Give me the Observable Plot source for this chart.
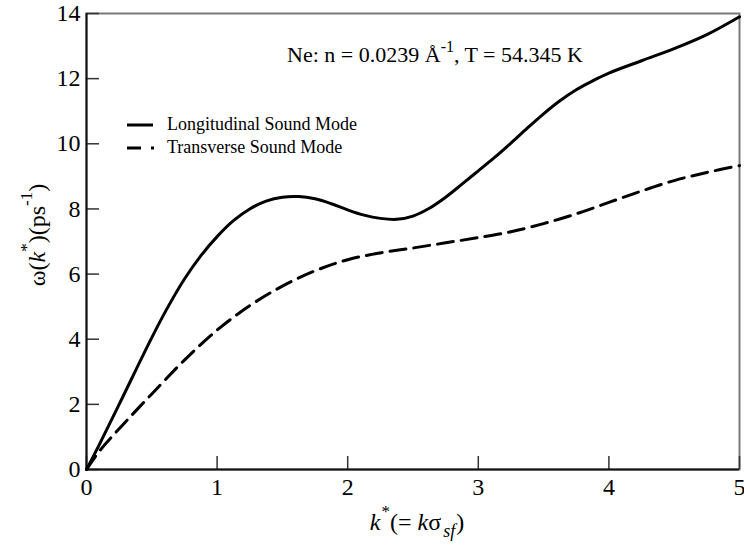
<!DOCTYPE html>
<html>
<head>
<meta charset="utf-8">
<script src="https://cdn.jsdelivr.net/npm/d3@7"></script>
<script src="https://cdn.jsdelivr.net/npm/@observablehq/plot@0.6"></script>
<style>
  html, body { margin: 0; padding: 0; background: #fff; }
  svg text, svg tspan { font-family: "Liberation Serif", "Times New Roman", serif !important; }
</style>
</head>
<body>
<div id="chart"></div>
<script>
// Longitudinal sound mode
const kLong = [0, 0.1, 0.25, 0.5, 0.625, 0.75, 0.875, 1.0, 1.125, 1.25, 1.375, 1.5, 1.625, 1.75, 1.875, 2.0, 2.125, 2.25, 2.375, 2.5, 2.625, 2.75, 2.875, 3.0, 3.125, 3.25, 3.375, 3.5, 3.625, 3.75, 3.875, 4.0, 4.25, 4.5, 4.75, 5.0];
const wLong = [0, 0.78, 2.0, 4.05, 5.0, 5.85, 6.56, 7.15, 7.64, 8.0, 8.24, 8.36, 8.38, 8.31, 8.16, 7.97, 7.81, 7.71, 7.68, 7.78, 8.02, 8.36, 8.76, 9.17, 9.58, 10.02, 10.48, 10.92, 11.32, 11.66, 11.93, 12.17, 12.55, 12.92, 13.35, 13.90];
// Transverse sound mode
const kTrans = [0, 0.1, 0.25, 0.5, 0.75, 1.0, 1.25, 1.5, 1.75, 2.0, 2.25, 2.5, 2.75, 3.0, 3.25, 3.5, 3.75, 4.0, 4.25, 4.5, 4.75, 5.0];
const wTrans = [0, 0.57, 1.25, 2.32, 3.36, 4.28, 5.03, 5.63, 6.10, 6.44, 6.65, 6.80, 6.96, 7.12, 7.30, 7.55, 7.85, 8.20, 8.55, 8.87, 9.12, 9.33];
// tick labels
const xTicks = [0, 1, 2, 3, 4, 5];
const yTicks = [0, 2, 4, 6, 8, 10, 12, 14];

const W = 744, H = 549;
const mL = 86, mR = 5, mT = 13, mB = 80;
const plotW = W - mL - mR, plotH = H - mT - mB;
const tickLen = 13;
const font = "Liberation Serif";

const longData = kLong.map((k, i) => ({k, w: wLong[i]}));
const transData = kTrans.map((k, i) => ({k, w: wTrans[i]}));

const plot = Plot.plot({
  width: W, height: H,
  marginLeft: mL, marginRight: mR, marginTop: mT, marginBottom: mB,
  style: {fontFamily: font, background: "#fff", color: "#000"},
  x: {domain: [0, 5], label: null},
  y: {domain: [0, 14], label: null},
  marks: [
    Plot.frame({stroke: "#7a7a7a", strokeWidth: 2}),
    Plot.tickX(xTicks, {x: d => d, insetTop: plotH - tickLen, stroke: "#333", strokeWidth: 1.5}),
    Plot.tickY(yTicks, {y: d => d, insetRight: plotW - tickLen, stroke: "#333", strokeWidth: 1.5}),
    Plot.ruleX([0], {stroke: "#111", strokeWidth: 2}),
    Plot.ruleY([0], {stroke: "#111", strokeWidth: 2}),
    Plot.axisX(xTicks, {tickSize: 0, tickPadding: 8, fontSize: 24, fontFamily: font, label: null, tickFormat: d => String(d)}),
    Plot.axisY(yTicks, {tickSize: 0, tickPadding: 6, fontSize: 24, fontFamily: font, label: null, tickFormat: d => String(d)}),
    Plot.line(transData, {x: "k", y: "w", stroke: "#000", strokeWidth: 3, strokeDasharray: "16,8", curve: "catmull-rom"}),
    Plot.line(longData, {x: "k", y: "w", stroke: "#000", strokeWidth: 3, curve: "catmull-rom"})
  ]
});

document.getElementById("chart").appendChild(plot);
const svg = d3.select(plot);

// Title annotation
const title = svg.append("text")
  .attr("x", 435).attr("y", 62)
  .attr("text-anchor", "middle")
  .attr("font-size", 22).attr("fill", "#000");
title.append("tspan").text("Ne: n = 0.0239 Å");
title.append("tspan").attr("font-size", 16).attr("dy", -10).text("-1");
title.append("tspan").attr("dy", 10).text(", T = 54.345 K");

// Legend
const leg = svg.append("g").attr("font-size", 18).attr("fill", "#000").attr("text-anchor", "start");
leg.append("line").attr("x1", 127).attr("x2", 153).attr("y1", 125).attr("y2", 125)
  .attr("stroke", "#000").attr("stroke-width", 3);
leg.append("text").attr("x", 167).attr("y", 130).attr("text-anchor", "start").text("Longitudinal Sound Mode");
leg.append("line").attr("x1", 127).attr("x2", 154).attr("y1", 148).attr("y2", 148)
  .attr("stroke", "#000").attr("stroke-width", 3).attr("stroke-dasharray", "14,10");
leg.append("text").attr("x", 167).attr("y", 153).attr("text-anchor", "start").text("Transverse Sound Mode");

// X axis label: k*(= kσ_sf)
const xl = svg.append("text")
  .attr("x", 417).attr("y", 530)
  .attr("text-anchor", "middle")
  .attr("font-size", 24).attr("fill", "#000");
xl.append("tspan").attr("font-style", "italic").text("k");
xl.append("tspan").attr("font-size", 17).attr("dy", -13).attr("dx", 1).text("*");
xl.append("tspan").attr("dy", 13).text("(= ");
xl.append("tspan").attr("font-style", "italic").text("k");
xl.append("tspan").text("σ");
xl.append("tspan").attr("font-size", 18).attr("font-style", "italic").attr("dy", 7).attr("dx", 2).text("sf");
xl.append("tspan").attr("dy", -7).attr("dx", 1).text(")");

// Y axis label: ω(k*)(ps^-1)
const yl = svg.append("text")
  .attr("transform", "translate(45,235) rotate(-90)")
  .attr("text-anchor", "middle")
  .attr("font-size", 24).attr("fill", "#000");
yl.append("tspan").text("ω(");
yl.append("tspan").attr("font-style", "italic").text("k");
yl.append("tspan").attr("font-size", 17).attr("dy", -13).text("*");
yl.append("tspan").attr("dy", 13).text(")(ps");
yl.append("tspan").attr("font-size", 17).attr("dy", -13).text("-1");
yl.append("tspan").attr("dy", 13).text(")");
</script>
</body>
</html>
